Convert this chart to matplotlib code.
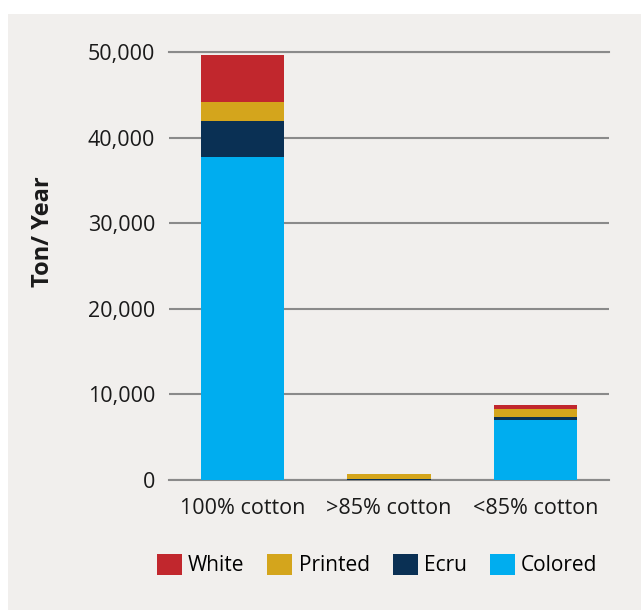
import matplotlib.pyplot as plt
import matplotlib.patches as mpatches
import numpy as np

# data (ton / year)
categories = ['100% cotton', '>85% cotton', '<85% cotton']
colored = [37750, 50, 7050]
ecru = [4200, 100, 320]
printed = [2200, 550, 930]
white = [5550, 0, 500]

series = [('Colored', colored, '#00adef'),
          ('Ecru', ecru, '#0a3054'),
          ('Printed', printed, '#d4a51c'),
          ('White', white, '#c1272d')]

plt.rcParams['font.family'] = ['Open Sans', 'DejaVu Sans']

fig = plt.figure(figsize=(6.41, 6.10), dpi=100, facecolor='white')
# light textured-looking panel behind the chart
fig.patches.append(mpatches.Rectangle((8/641, 0), 1, 1 - 14/610, transform=fig.transFigure,
                                      facecolor='#f1efed', edgecolor='none', zorder=-10))

ax = fig.add_axes([169/641, 1 - 480/610, 440/641, 428/610])
ax.set_facecolor('none')

x = np.arange(len(categories))
bottom = np.zeros(len(categories))
handles = {}
for name, vals, col in series:
    b = ax.bar(x, vals, bottom=bottom, width=0.57, color=col, label=name, zorder=3)
    handles[name] = b
    bottom += np.array(vals)

ax.set_xlim(-0.5, 2.5)
ax.set_ylim(0, 50000)
ax.set_yticks(np.arange(0, 50001, 10000))
ax.set_yticklabels(['0', '10,000', '20,000', '30,000', '40,000', '50,000'])
ax.set_xticks(x)
ax.set_xticklabels(categories)
ax.tick_params(axis='both', length=0, labelsize=15.5, colors='#1a1a1a')
ax.tick_params(axis='y', pad=10)
ax.tick_params(axis='x', pad=13)
ax.grid(axis='y', color='#8a8a8a', linewidth=1.5, zorder=1)
for s in ax.spines.values():
    s.set_visible(False)
ax.axhline(0, color='#8a8a8a', linewidth=1.5, zorder=1, clip_on=False)
ax.axhline(50000, color='#8a8a8a', linewidth=1.5, zorder=1, clip_on=False)

fig.text(43/641, 1 - 232/610, 'Ton/ Year', rotation=90, ha='center', va='center',
         fontsize=17, fontweight='bold', color='#1a1a1a')

order = ['White', 'Printed', 'Ecru', 'Colored']
fig.legend([handles[n] for n in order], order, loc='center', ncol=4,
           bbox_to_anchor=(377/641, 1 - 565/610), frameon=False, fontsize=15,
           handlelength=1.2, handleheight=1.2, handletextpad=0.3, columnspacing=1.1)

fig.savefig('out.png', dpi=100, facecolor=fig.get_facecolor())
